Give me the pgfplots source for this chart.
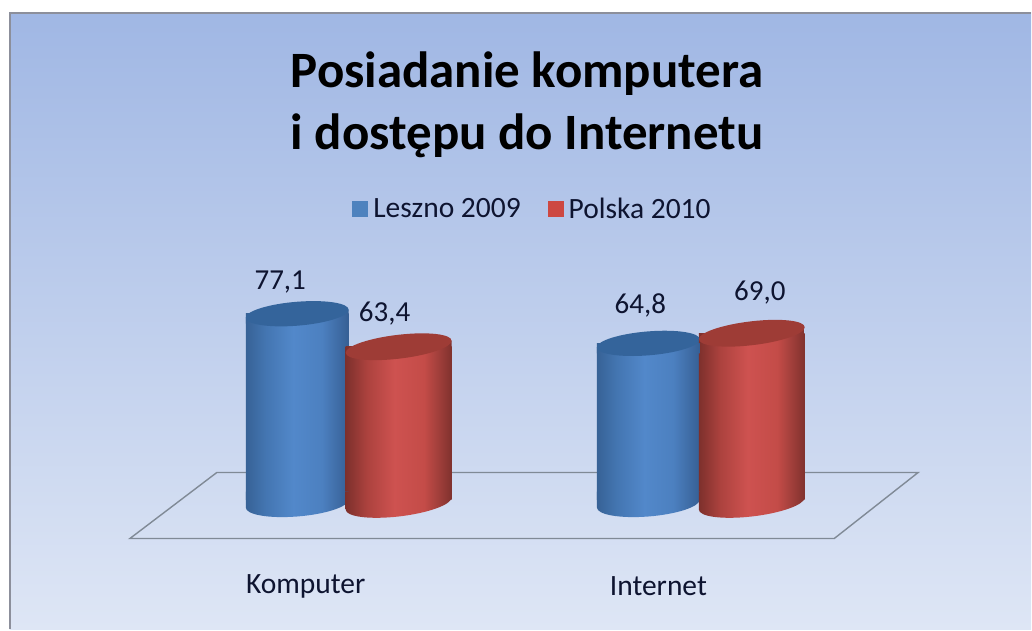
\documentclass[border=0pt]{standalone}
\usepackage{fontspec}
\setmainfont{Carlito}
\usepackage{pgfplots}
\pgfplotsset{compat=1.18}
\definecolor{txt}{RGB}{14,20,48}
\definecolor{bluetopc}{RGB}{52,100,155}
\definecolor{redtopc}{RGB}{158,60,54}
\definecolor{blueleg}{RGB}{78,130,190}
\definecolor{redleg}{RGB}{205,72,66}
\definecolor{bgtop}{RGB}{160,183,228}
\definecolor{bgbot}{RGB}{222,230,245}
\definecolor{ba}{RGB}{55,98,150}
\definecolor{bb}{RGB}{68,118,178}
\definecolor{bc}{RGB}{82,136,202}
\definecolor{bd}{RGB}{76,128,192}
\definecolor{be}{RGB}{54,95,148}
\definecolor{ra}{RGB}{125,48,44}
\definecolor{rb}{RGB}{172,66,62}
\definecolor{rc}{RGB}{206,82,80}
\definecolor{rd}{RGB}{196,76,72}
\definecolor{re}{RGB}{128,50,46}
\pgfdeclarehorizontalshading{bluecyl}{100bp}{
 color(0bp)=(ba); color(25bp)=(ba); color(35bp)=(bb); color(48bp)=(bc);
 color(62bp)=(bd); color(75bp)=(be); color(100bp)=(be)}
\pgfdeclarehorizontalshading{redcyl}{100bp}{
 color(0bp)=(ra); color(25bp)=(ra); color(35bp)=(rb); color(48bp)=(rc);
 color(62bp)=(rd); color(75bp)=(re); color(100bp)=(re)}
% #1 half width, #2 tilt, #3 half height, #4 shading, #5 cap colour
\newcommand\cyltop[5]{%
 \pgfpathmoveto{\pgfpoint{-#1pt}{-#2pt}}%
 \pgfpathlineto{\pgfpoint{-#1pt}{-10pt}}%
 \pgfpathlineto{\pgfpoint{#1pt}{-10pt}}%
 \pgfpathlineto{\pgfpoint{#1pt}{#2pt}}%
 \pgfpathclose
 \pgfshadepath{#4}{0}\pgfusepath{discard}%
 \pgfpathellipse{\pgfpointorigin}{\pgfpoint{#1pt}{#2pt}}{\pgfpoint{0pt}{#3pt}}%
 \pgfsetfillcolor{#5}\pgfusepathqfill}
\newcommand\cylbot[4]{%
 \pgfpathmoveto{\pgfpoint{-#1pt}{8pt}}%
 \pgfpathlineto{\pgfpoint{-#1pt}{-4pt-#2pt}}%
 \pgfpathcurveto{\pgfpoint{-#1pt}{-4pt-#2pt-.5523*#3pt}}{\pgfpoint{-.5523*#1pt}{-4pt-#3pt-.5523*#2pt}}{\pgfpoint{0pt}{-4pt-#3pt}}%
 \pgfpathcurveto{\pgfpoint{.5523*#1pt}{-4pt-#3pt+.5523*#2pt}}{\pgfpoint{#1pt}{-4pt+#2pt-.5523*#3pt}}{\pgfpoint{#1pt}{-4pt+#2pt}}%
 \pgfpathlineto{\pgfpoint{#1pt}{8pt}}%
 \pgfpathclose
 \pgfshadepath{#4}{0}\pgfusepath{discard}}
\pgfdeclareplotmark{bluetop}{\cyltop{51.5}{4}{12}{bluecyl}{bluetopc}}
\pgfdeclareplotmark{redtop}{\cyltop{53}{6}{12}{redcyl}{redtopc}}
\pgfdeclareplotmark{bluebot}{\cylbot{51.5}{4}{13}{bluecyl}}
\pgfdeclareplotmark{redbot}{\cylbot{53}{6}{13}{redcyl}}
\pgfplotsset{
 cylbar/.style={ybar,bar width=#1pt,bar shift=0pt,draw=none,forget plot},
 lab/.style 2 args={nodes near coords,nodes near coords style={anchor=center,xshift=#1pt,yshift=#2pt,font=\fontsize{29}{31}\selectfont,text=txt,
   /pgf/number format/.cd,fixed,fixed zerofill,precision=1,use comma,assume math mode=true}},
}
\begin{document}
\begin{tikzpicture}[x=1pt,y=1pt]
\fill[white] (0,0) rectangle (1032,630);
\shade[top color=bgtop,bottom color=bgbot] (10,0) rectangle (1032,617);
\draw[line width=2pt,color={rgb,255:red,140;green,143;blue,155}] (10,0) -- (10,617) -- (1032,617);
\begin{axis}[
  at={(0,0)},anchor=south west,
  width=1032pt,height=630pt,scale only axis,
  xmin=0,xmax=1032,ymin=-53.9,ymax=207.3,
  hide axis,clip=false,
  legend style={at={(axis cs:533,120.6)},anchor=center,draw=none,fill=none,legend columns=2,
    font=\fontsize{29.5}{31}\selectfont,text=txt,
    /tikz/every even column/.append style={column sep=25pt}},
]
% platform
\draw[line width=1.4pt,color={rgb,255:red,128;green,138;blue,150}]
  (axis cs:217,11.2) -- (axis cs:919,11.2) -- (axis cs:835,-16.2) -- (axis cs:130,-16.2) -- cycle;
% Leszno 2009
\addplot[only marks,mark=bluebot,forget plot] coordinates {(297.5,0)(649,0)};
\addplot[ybar,bar width=103pt,bar shift=0pt,draw=none,shading=bluecyl,shade,
  legend image code/.code={\path[shade=false,fill=blueleg,draw=none] (0pt,-8pt) rectangle (16pt,8pt);}] coordinates {(297.5,77.1)};
\addlegendentry{\hspace{3pt}Leszno 2009}
\addplot[cylbar=103,shading=bluecyl,shade] coordinates {(649,64.8)};
\addplot[only marks,mark=bluetop,forget plot,lab={-17}{32}] coordinates {(297.5,77.1)};
\addplot[only marks,mark=bluetop,forget plot,lab={-8}{38}] coordinates {(649,64.8)};
% Polska 2010
\addplot[only marks,mark=redbot,forget plot] coordinates {(399,0)(752.5,0)};
\addplot[ybar,bar width=106pt,bar shift=0pt,draw=none,shading=redcyl,shade,
  legend image code/.code={\path[shade=false,fill=redleg,draw=none] (0pt,-8pt) rectangle (16pt,8pt);}] coordinates {(399,63.4)};
\addlegendentry{\hspace{3pt}Polska 2010}
\addplot[cylbar=106,shading=redcyl,shade] coordinates {(752.5,69.0)};
\addplot[only marks,mark=redtop,forget plot,lab={-14}{33}] coordinates {(399,63.4)};
\addplot[only marks,mark=redtop,forget plot,lab={8}{41}] coordinates {(752.5,69.0)};
% texts
\node[align=center,font=\fontsize{51}{63}\selectfont\bfseries,text=black] at (axis cs:527.5,163.8) {Posiadanie komputera\\i dostępu do Internetu};
\node[font=\fontsize{29.5}{32}\selectfont,text=txt] at (axis cs:306,-36) {Komputer};
\node[font=\fontsize{29.5}{32}\selectfont,text=txt] at (axis cs:659,-36) {Internet};
\end{axis}
\end{tikzpicture}
\end{document}
